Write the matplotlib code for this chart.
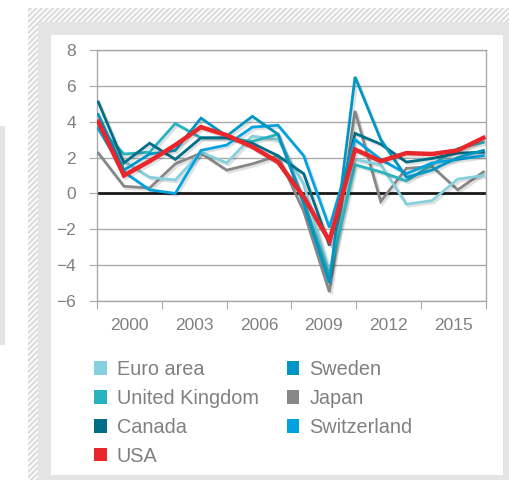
import numpy as np
import matplotlib.pyplot as plt
import matplotlib.patheffects as pe
from matplotlib.patches import Rectangle, Patch

plt.rcParams['font.family'] = ['Liberation Sans', 'DejaVu Sans']
plt.rcParams['hatch.linewidth'] = 1.6

# GDP growth, % (2000-2015)
years = list(range(2000, 2016))
euro_area = [3.8, 1.8, 0.9, 0.75, 2.3, 1.7, 3.2, 3.0, 0.5, -4.4, 1.9, 1.6, -0.6, -0.4, 0.8, 1.0]
united_kingdom = [3.7, 2.2, 2.3, 3.9, 3.1, 3.1, 2.9, 3.3, -0.4, -4.6, 1.6, 1.2, 0.7, 1.6, 2.5, 2.85]
canada = [5.1, 1.7, 2.8, 1.9, 3.1, 3.1, 2.8, 2.1, 1.1, -2.9, 3.35, 2.75, 1.75, 1.95, 2.25, 2.3]
usa = [4.0, 1.0, 1.8, 2.7, 3.7, 3.25, 2.6, 1.75, -0.2, -2.65, 2.45, 1.8, 2.25, 2.2, 2.4, 3.1]
sweden = [4.4, 1.3, 2.2, 2.4, 4.2, 3.2, 4.3, 3.3, -0.6, -5.0, 6.5, 3.0, 0.9, 1.3, 2.0, 2.4]
japan = [2.25, 0.4, 0.3, 1.65, 2.25, 1.3, 1.65, 2.1, -1.0, -5.5, 4.6, -0.45, 1.4, 1.5, 0.2, 1.2]
switzerland = [3.6, 1.2, 0.2, 0.0, 2.4, 2.7, 3.7, 3.8, 2.1, -1.9, 3.0, 1.9, 1.1, 1.7, 1.9, 2.1]

tick_labels = ['2000', '2003', '2006', '2009', '2012', '2015']

series = [
    ('Euro area', euro_area, '#86CFDC', 2.0),
    ('United Kingdom', united_kingdom, '#27B4BE', 2.0),
    ('Canada', canada, '#006E87', 2.0),
    ('USA', usa, '#E8262B', 3.2),
    ('Sweden', sweden, '#0096C4', 2.0),
    ('Japan', japan, '#878787', 2.0),
    ('Switzerland', switzerland, '#00A3DF', 2.0),
]
draw_order = ['Japan', 'Euro area', 'United Kingdom', 'Canada', 'Switzerland', 'Sweden', 'USA']

W, H = 509, 480
fig = plt.figure(figsize=(W / 100, H / 100), dpi=100)


def px_rect(x0, y0, x1, y1, **kw):
    # pixel box (top-left origin) -> figure fraction rectangle, behind the axes
    r = Rectangle((x0 / W, 1 - y1 / H), (x1 - x0) / W, (y1 - y0) / H,
                  transform=fig.transFigure, linewidth=0, zorder=-10, **kw)
    fig.add_artist(r)
    return r


# background frame
px_rect(0, 126, 5, 345, facecolor='#E4E4E4')
px_rect(28, 8, W, H, facecolor='white', edgecolor='#DCDCDC', hatch='//////')
px_rect(38, 22, W, H, facecolor='#E4E4E4')
px_rect(51, 35, 503, 475, facecolor='white')

ax = fig.add_axes([97 / W, 1 - 301 / H, 389 / W, 251 / H])
ax.patch.set_alpha(0)

x = np.arange(len(years))
lookup = {s[0]: s for s in series}
for z, name in enumerate(draw_order):
    label, vals, color, lw = lookup[name]
    ax.plot(x, vals, color=color, lw=lw, zorder=3 + z, solid_joinstyle='miter',
            path_effects=[pe.SimpleLineShadow(offset=(1.5, -1.5), alpha=0.12),
                          pe.Normal()])

x0, x1 = -0.05, 15.1
ax.set_xlim(x0, x1)
ax.set_ylim(-6, 8)
ax.set_yticks(range(-6, 9, 2))
ax.grid(axis='y', color='#A9A9A9', lw=1)
ax.set_axisbelow(True)
ax.axhline(0, color='#1A1A1A', lw=2, zorder=2)

edges = np.linspace(x0, x1, 7)
ax.set_xticks(edges)
ax.set_xticklabels([])
ax.set_xticks((edges[:-1] + edges[1:]) / 2, minor=True)
ax.set_xticklabels(tick_labels, minor=True)

for s in ax.spines.values():
    s.set_color('#A9A9A9')
    s.set_linewidth(1)

ax.tick_params(axis='both', which='major', direction='out', length=6, color='#A9A9A9',
               labelcolor='#808080', labelsize=12.5, pad=9)
ax.tick_params(axis='x', which='minor', length=0, labelcolor='#808080',
               labelsize=12.5, pad=12)

handles = [Patch(facecolor=s[2], edgecolor='none', label=s[0]) for s in series]
fig.legend(handles=handles, ncol=2, frameon=False, loc='upper left',
           bbox_to_anchor=(94 / W, 1 - 360 / H), fontsize=14.3, labelcolor='#808080',
           handlelength=0.65, handleheight=0.65, handletextpad=0.5,
           columnspacing=1.4, labelspacing=0.5, borderpad=0, borderaxespad=0)

fig.savefig('out.png', dpi=100)
